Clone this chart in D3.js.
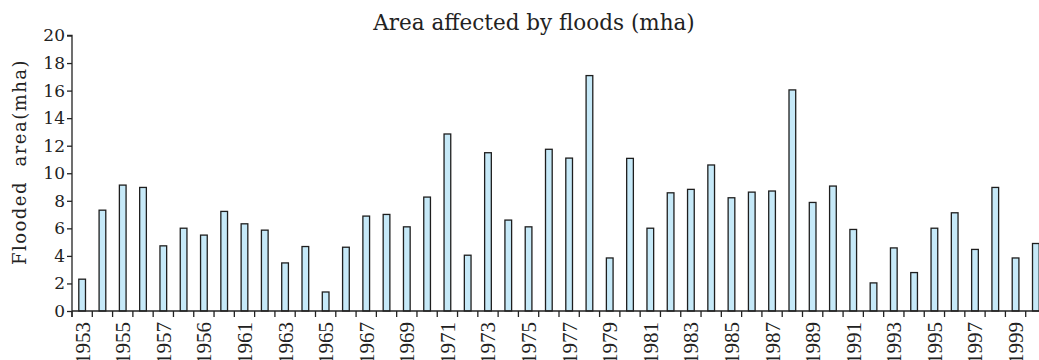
<!DOCTYPE html>
<html>
<head>
<meta charset="utf-8">
<script src="https://cdn.jsdelivr.net/npm/d3@7"></script>
<style>
  html, body { margin: 0; padding: 0; background: #fff; overflow: hidden; }
  svg { display: block; }
  text { fill: #222; }
</style>
</head>
<body>
<svg id="chart" width="1039" height="360"></svg>
<script>
const years = d3.range(1953, 2001).map(String);
const floodedArea = [
  2.31, 7.32, 9.14, 8.97, 4.73, 6.01, 5.51, 7.23, 6.33, 5.87,
  3.49, 4.68, 1.38, 4.63, 6.89, 7.01, 6.11, 8.27, 12.85, 4.05,
  11.49, 6.6, 6.11, 11.74, 11.1, 17.09, 3.85, 11.08, 6.01, 8.58,
  8.83, 10.6, 8.22, 8.63, 8.71, 16.05, 7.88, 9.07, 5.92, 2.04,
  4.58, 2.79, 6.01, 7.13, 4.47, 8.97, 3.85, 4.9
];
const xTickLabels = [
  "1953", "1955", "1957", "1956", "1961", "1963", "1965", "1967", "1969", "1971",
  "1973", "1975", "1977", "1979", "1981", "1983", "1985", "1987", "1989", "1991",
  "1993", "1995", "1997", "1999"
];
const yTicks = [0, 2, 4, 6, 8, 10, 12, 14, 16, 18, 20];
const titleText = "Area affected by floods (mha)";
const yTitle = "Flooded  area(mha)";

const svg = d3.select("#chart");
const x = d3.scaleBand().domain(years).range([72, 1046]).padding(0);
const y = d3.scaleLinear().domain([0, 20]).range([311, 35.5]);
const barW = x.bandwidth() * 0.33;

// bars
svg.append("g").selectAll("rect")
  .data(years.map((yr, i) => ({ yr, v: floodedArea[i] })))
  .join("rect")
  .attr("x", d => x(d.yr) + x.bandwidth() / 2 - barW / 2)
  .attr("y", d => y(d.v))
  .attr("width", barW)
  .attr("height", d => y(0) - y(d.v))
  .attr("fill", "#c6e9f8")
  .attr("stroke", "#1e1e1e")
  .attr("stroke-width", 1.3);

// x axis: ticks at band boundaries
const xAxisG = svg.append("g").attr("transform", `translate(0,${y(0)})`);
xAxisG.append("line")
  .attr("x1", 72).attr("x2", 1046)
  .attr("stroke", "#222").attr("stroke-width", 1.3);
xAxisG.selectAll("line.tk")
  .data(years)
  .join("line").attr("class", "tk")
  .attr("x1", d => x(d)).attr("x2", d => x(d))
  .attr("y1", 0).attr("y2", 6)
  .attr("stroke", "#222").attr("stroke-width", 1.3);
xAxisG.selectAll("text")
  .data(years.filter((d, i) => i % 2 === 0))
  .join("text")
  .attr("transform", d => `translate(${x(d) + x.bandwidth() / 2 + 7.5},11) rotate(-90)`)
  .attr("text-anchor", "end")
  .style("font-family", '"Liberation Serif", serif')
  .style("font-size", "21px")
  .style("fill", "#222")
  .text((d, i) => xTickLabels[i]);

// y axis
const yAxis = d3.axisLeft(y).tickValues(yTicks).tickSize(5).tickPadding(2).tickFormat(d3.format("d"));
const yAxisG = svg.append("g").attr("transform", "translate(72,0)").call(yAxis);
yAxisG.select(".domain").attr("stroke", "#222").attr("stroke-width", 1.3).attr("d", `M-5,${y(20)}H0V${y(0) + 6}`);
yAxisG.selectAll(".tick line").attr("stroke", "#222").attr("stroke-width", 1.3);
yAxisG.selectAll(".tick text")
  .style("font-family", '"DejaVu Serif", serif')
  .style("font-size", "17px")
  .style("fill", "#222");

// title
svg.append("text")
  .attr("x", 534).attr("y", 30)
  .attr("text-anchor", "middle")
  .style("font-family", '"DejaVu Serif", serif')
  .style("font-size", "21.5px")
  .text(titleText);

// y title
svg.append("text")
  .attr("transform", `translate(26,162) rotate(-90)`)
  .attr("text-anchor", "middle")
  .style("font-family", '"DejaVu Serif", serif')
  .style("font-size", "18px")
  .style("letter-spacing", "1.5px")
  .style("white-space", "pre")
  .text(yTitle);
</script>
</body>
</html>
